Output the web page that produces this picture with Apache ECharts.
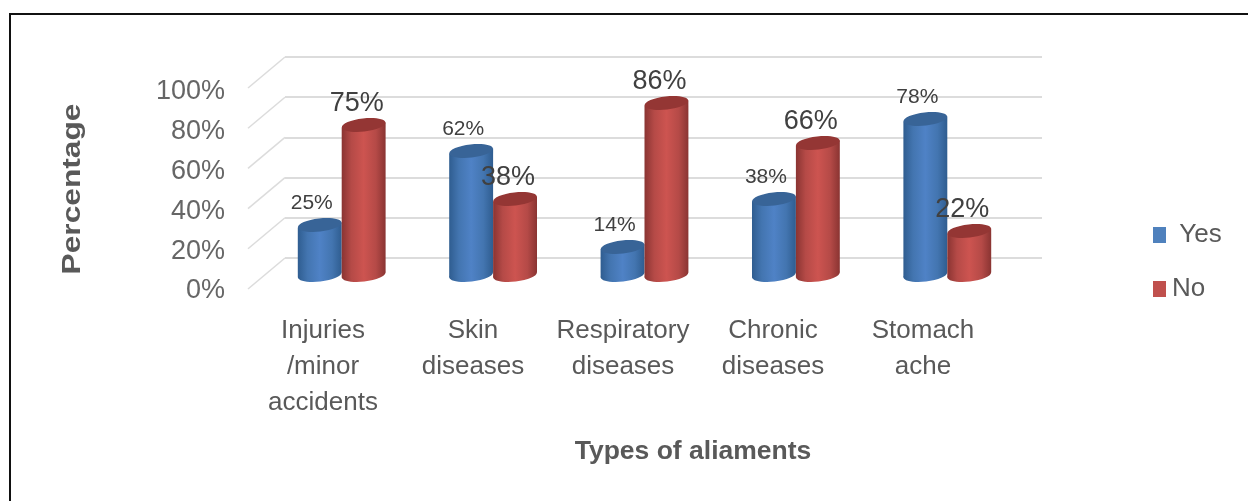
<!DOCTYPE html>
<html><head><meta charset="utf-8">
<style>html,body{margin:0;padding:0;background:#fff}#c{width:1248px;height:501px}</style>
<script src="https://cdn.jsdelivr.net/npm/echarts@6/dist/echarts.min.js"></script>
</head><body><div id="c"></div>
<script>
const categories = ['Injuries\n/minor\naccidents', 'Skin\ndiseases', 'Respiratory\ndiseases', 'Chronic\ndiseases', 'Stomach\nache'];
const yes = [25, 62, 14, 38, 78];
const no = [75, 38, 86, 66, 22];
const gridValues = [0, 20, 40, 60, 80, 100];

const FONT = '"Liberation Sans", Arial, sans-serif';
const GREY = '#595959';
const TILT = 0.11;

function cylinder(color, side, labelFont, labelOffsets) {
  return function (params, api) {
    const v = api.value(1);
    const i = api.value(0);
    const band = api.size([1, 0])[0];
    const base = api.coord([i, 0]);
    const top = api.coord([i, v]);
    const w = band * 0.29;
    const cx = base[0] + side * w / 2;
    const rx = w / 2, ry = 6.5, dy = rx * Math.sin(TILT);
    const grad = new echarts.graphic.LinearGradient(0, 0, 1, 0, [
      { offset: 0, color: color.edge },
      { offset: 0.22, color: color.mid },
      { offset: 0.5, color: color.light },
      { offset: 0.78, color: color.mid },
      { offset: 1, color: color.edge }
    ]);
    const lo = labelOffsets(i);
    return {
      type: 'group',
      children: [
        { type: 'ellipse', shape: { cx: cx, cy: base[1], rx: rx, ry: ry },
          rotation: TILT, originX: cx, originY: base[1], style: { fill: grad } },
        { type: 'polygon', shape: { points: [
            [cx - rx, top[1] + dy], [cx + rx, top[1] - dy],
            [cx + rx, base[1] - dy], [cx - rx, base[1] + dy]] },
          style: { fill: grad } },
        { type: 'ellipse', shape: { cx: cx, cy: top[1], rx: rx, ry: ry },
          rotation: TILT, originX: cx, originY: top[1], style: { fill: color.top } },
        { type: 'text', z2: 50, x: cx + lo[0], y: top[1] + lo[1],
          style: { text: v + '%', font: labelFont, fill: '#404040', align: 'center', verticalAlign: 'middle' } }
      ]
    };
  };
}

const blue = { edge: '#2f5d90', mid: '#4375b0', light: '#4f82c6', top: '#386497' };
const red = { edge: '#8a3432', mid: '#b54a47', light: '#cd5450', top: '#943634' };

function diagonals(params, api) {
  const p = api.coord([0, api.value(0)]);
  const x = params.coordSys.x;
  return { type: 'line', shape: { x1: x, y1: p[1], x2: x - 37, y2: p[1] + 31 },
    style: { stroke: '#dcdcdc', lineWidth: 1.5 } };
}

const option = {
  animation: false,
  backgroundColor: '#fff',
  textStyle: { fontFamily: FONT },
  graphic: [
    { type: 'rect', shape: { x: 10, y: 14, width: 1240, height: 500 }, silent: true, z: -1,
      style: { fill: 'none', stroke: '#111', lineWidth: 2 } },
    { type: 'text', x: 73, y: 189, rotation: Math.PI / 2, scaleX: 1.22, z: 10,
      style: { text: 'Percentage', font: 'bold 26px ' + FONT, fill: GREY, align: 'center', verticalAlign: 'middle' } }
  ],
  legend: {
    orient: 'vertical', left: 1148, top: 217, itemWidth: 13, itemHeight: 16, itemGap: 28,
    icon: 'rect', data: ['Yes', 'No'], selectedMode: false,
    formatter: n => n === 'Yes' ? ' Yes' : n,
    textStyle: { fontSize: 26, color: GREY, fontFamily: FONT, padding: [0, 0, 0, 1] }
  },
  grid: [
    { left: 285, top: 57, width: 757, height: 201 },
    { left: 266, top: 75, width: 757, height: 200 },
    { left: 248, top: 92, width: 750, height: 199 }
  ],
  xAxis: [
    { gridIndex: 0, type: 'category', data: categories, axisLine: { show: false }, axisTick: { show: false }, axisLabel: { show: false } },
    { gridIndex: 1, type: 'category', data: categories, axisLine: { show: false }, axisTick: { show: false }, axisLabel: { show: false } },
    { gridIndex: 2, type: 'category', data: categories, axisLine: { show: false }, axisTick: { show: false },
      axisLabel: { fontSize: 26, lineHeight: 36, color: GREY, margin: 22, interval: 0 },
      name: 'Types of aliaments', nameLocation: 'middle', nameGap: 147,
      nameTextStyle: { fontSize: 26.5, fontWeight: 'bold', color: GREY, padding: [0, 0, 0, 140] } }
  ],
  yAxis: [
    { gridIndex: 0, type: 'value', min: 0, max: 100, interval: 20, axisLabel: { show: false },
      axisLine: { show: false }, axisTick: { show: false },
      splitLine: { show: true, lineStyle: { color: '#dcdcdc', width: 2 } } },
    { gridIndex: 1, type: 'value', min: 0, max: 100, interval: 20, axisLabel: { show: false },
      axisLine: { show: false }, axisTick: { show: false }, splitLine: { show: false } },
    { gridIndex: 2, type: 'value', min: 0, max: 100, interval: 20, axisLine: { show: false }, axisTick: { show: false },
      splitLine: { show: false },
      axisLabel: { fontSize: 27, color: '#666', margin: 23, formatter: '{value}%' } }
  ],
  series: [
    { type: 'custom', silent: true, xAxisIndex: 0, yAxisIndex: 0, data: gridValues.map(v => [v]),
      encode: { y: 0 }, renderItem: diagonals, z: 1 },
    { name: 'Yes', type: 'custom', xAxisIndex: 1, yAxisIndex: 1, z: 3, itemStyle: { color: '#4f81bd' },
      data: yes.map((v, i) => [i, v]), encode: { x: 0, y: 1 },
      renderItem: cylinder(blue, -1, '21px ' + FONT, () => [-8, -22]) },
    { name: 'No', type: 'custom', xAxisIndex: 1, yAxisIndex: 1, z: 4, itemStyle: { color: '#c0504d' },
      data: no.map((v, i) => [i, v]), encode: { x: 0, y: 1 },
      renderItem: cylinder(red, 1, '27px ' + FONT, () => [-7, -21.5]) }
  ]
};
echarts.init(document.getElementById('c'), null, { renderer: 'canvas' }).setOption(option);
</script></body></html>
